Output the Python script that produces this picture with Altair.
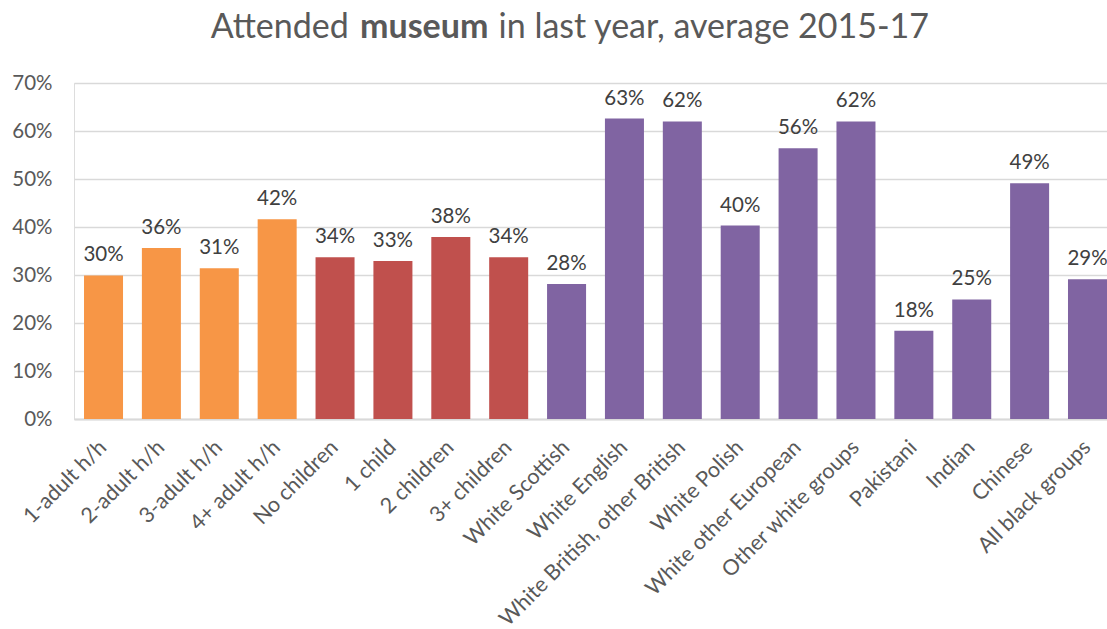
import altair as alt
import pandas as pd

categories = [
    "1-adult h/h", "2-adult h/h", "3-adult h/h", "4+ adult h/h",
    "No children", "1 child", "2 children", "3+ children",
    "White Scottish", "White English", "White British, other British",
    "White Polish", "White other European", "Other white groups",
    "Pakistani", "Indian", "Chinese", "All black groups",
]
values = [
    0.299, 0.356, 0.314, 0.416,
    0.337, 0.329, 0.379, 0.337,
    0.281, 0.626, 0.620, 0.403, 0.564, 0.620,
    0.184, 0.249, 0.491, 0.291,
]
groups = (["Household size"] * 4 + ["Children"] * 4 + ["Ethnicity"] * 10)
group_names = ["Household size", "Children", "Ethnicity"]
group_colors = ["#F79646", "#C0504D", "#8064A2"]
y_ticks = [0, 0.1, 0.2, 0.3, 0.4, 0.5, 0.6, 0.7]

df = pd.DataFrame({"cat": categories, "val": values, "grp": groups})

FONT = "Lato"

base = alt.Chart(df).encode(
    x=alt.X(
        "cat:N",
        sort=categories,
        scale=alt.Scale(paddingInner=0.326, paddingOuter=0.0865, align=1),
        axis=alt.Axis(
            title=None, labelAngle=-45, labelAlign="right", labelBaseline="middle",
            labelPadding=25, ticks=False, domainColor="#D9D9D9", domainWidth=2,
            labelFontSize=21.5, labelColor="#595959", labelFont=FONT,
            labelLimit=500, labelOverlap=False,
        ),
    ),
    y=alt.Y(
        "val:Q",
        scale=alt.Scale(domain=[0, 0.7], nice=False),
        axis=alt.Axis(
            values=y_ticks, format=".0%", title=None, domain=False, ticks=False,
            gridColor="#D9D9D9", gridWidth=1.5, labelPadding=22,
            labelFontSize=20.5, labelColor="#595959", labelFont=FONT,
        ),
    ),
)

bars = base.mark_bar().encode(
    color=alt.Color("grp:N", scale=alt.Scale(domain=group_names, range=group_colors), legend=None)
)

labels = base.mark_text(
    baseline="alphabetic", dy=-14, fontSize=20.5, font=FONT, color="#404040"
).encode(text=alt.Text("val:Q", format=".0%"))

title_df = pd.DataFrame({"a": ["Attended"], "b": ["museum"], "c": ["in last year, average 2015-17"]})
t1 = alt.Chart(title_df).mark_text(
    align="left", baseline="alphabetic", fontSize=34, font=FONT, color="#595959"
).encode(text="a:N", x=alt.value(136.7), y=alt.value(-44.7))
t2 = alt.Chart(title_df).mark_text(
    align="left", baseline="alphabetic", fontSize=34, font=FONT, color="#595959", fontWeight="bold"
).encode(text="b:N", x=alt.value(286), y=alt.value(-44.7))
t3 = alt.Chart(title_df).mark_text(
    align="right", baseline="alphabetic", fontSize=34, font=FONT, color="#595959"
).encode(text="c:N", x=alt.value(855), y=alt.value(-44.7))

chart = alt.layer(bars, labels, t1, t2, t3).properties(
    width=1033,
    height=336,
    autosize=alt.AutoSizeParams(type="none"),
    padding={"left": 74, "top": 83, "right": 0, "bottom": 210},
).configure_view(stroke=None).configure(background="white")

chart.save("out.html", embed_options={"renderer": "svg", "actions": False})
